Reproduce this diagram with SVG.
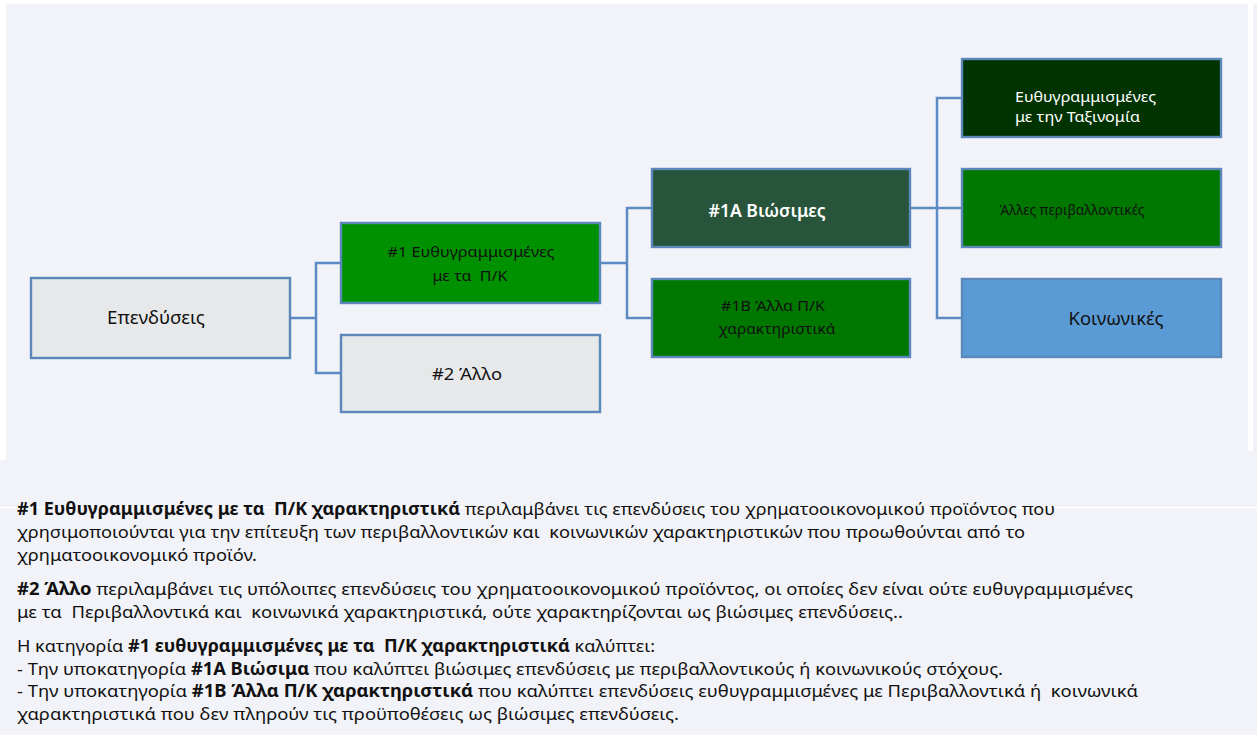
<svg xmlns="http://www.w3.org/2000/svg" width="1257" height="735" viewBox="0 0 1257 735" xml:space="preserve">
<style>
.node{stroke:#5b87bb;stroke-width:2.4}
.conn{fill:none;stroke:#5b8bc2;stroke-width:2.5}
.t{font-family:"Noto Sans","Open Sans","DejaVu Sans",sans-serif;white-space:pre}
.lbl{font-size:15px;fill:#111;text-anchor:middle}
.w{fill:#ffffff}
.body{font-size:17px;fill:#111}
.b{font-weight:bold}
</style>
<rect x="0" y="0" width="1257" height="735" fill="#f2f3f8"/>
<rect x="0" y="0" width="1257" height="4" fill="#ffffff"/>
<rect x="0" y="0" width="6" height="460" fill="#ffffff"/>
<rect x="1248" y="4" width="5" height="447" fill="#ffffff"/>
<line x1="0" y1="507.5" x2="1257" y2="507.5" stroke="#ffffff" stroke-width="1.5"/>

<g id="connectors">
<path class="conn" d="M290 318H316M341 263H316V373H341"/>
<path class="conn" d="M600 263H627M652 208H627V318H652"/>
<path class="conn" d="M910 208H962M962 98H937V318H962"/>
</g>

<g id="n-investments">
<rect class="node" x="31" y="278" width="259" height="80" fill="#e7e8e9"/>
<text class="t lbl" x="156" y="324" style="font-size:18px" textLength="98" lengthAdjust="spacingAndGlyphs">Επενδύσεις</text>
</g>
<g id="n-1">
<rect class="node" x="341" y="223" width="259" height="80" fill="#009100"/>
<text class="t lbl" x="471" y="257" textLength="167" lengthAdjust="spacingAndGlyphs">#1 Ευθυγραμμισμένες</text>
<text class="t lbl" x="470" y="281" textLength="75" lengthAdjust="spacingAndGlyphs">με τα &#160;Π/Κ</text>
</g>
<g id="n-2">
<rect class="node" x="341" y="335" width="259" height="77" fill="#e7e8e9"/>
<text class="t lbl" x="467" y="380" style="font-size:17px" textLength="70" lengthAdjust="spacingAndGlyphs">#2 Άλλο</text>
</g>
<g id="n-1a">
<rect class="node" x="652" y="169" width="258" height="78" fill="#27543a"/>
<text class="t lbl w" x="767" y="217" style="font-size:17px;font-weight:600" textLength="117" lengthAdjust="spacingAndGlyphs">#1Α Βιώσιμες</text>
</g>
<g id="n-1b">
<rect class="node" x="652" y="279" width="258" height="78" fill="#007800"/>
<text class="t lbl" x="773" y="311" textLength="104" lengthAdjust="spacingAndGlyphs">#1Β Άλλα Π/Κ</text>
<text class="t lbl" x="777" y="334" textLength="117" lengthAdjust="spacingAndGlyphs">χαρακτηριστικά</text>
</g>
<g id="n-taxonomy">
<rect class="node" x="962" y="59" width="259" height="78" fill="#003300"/>
<text class="t w" x="1015" y="102" style="font-size:14.5px" textLength="141" lengthAdjust="spacingAndGlyphs">Ευθυγραμμισμένες</text>
<text class="t w" x="1015" y="122" style="font-size:14.5px" textLength="125" lengthAdjust="spacingAndGlyphs">με την Ταξινομία</text>
</g>
<g id="n-other-env">
<rect class="node" x="962" y="169" width="259" height="78" fill="#007800"/>
<text class="t lbl" x="1072" y="215" textLength="145" lengthAdjust="spacingAndGlyphs">Άλλες περιβαλλοντικές</text>
</g>
<g id="n-social">
<rect class="node" x="962" y="279" width="259" height="78" fill="#5b9bd5"/>
<text class="t lbl" x="1116" y="325" style="font-size:18px" textLength="95" lengthAdjust="spacingAndGlyphs">Κοινωνικές</text>
</g>

<g id="notes" class="t body">
<text x="17" y="515" textLength="1038" lengthAdjust="spacingAndGlyphs"><tspan class="b">#1 Ευθυγραμμισμένες με τα &#160;Π/Κ χαρακτηριστικά</tspan> περιλαμβάνει τις επενδύσεις του χρηματοοικονομικού προϊόντος που</text>
<text x="17" y="538" textLength="1008" lengthAdjust="spacingAndGlyphs">χρησιμοποιούνται για την επίτευξη των περιβαλλοντικών και &#160;κοινωνικών χαρακτηριστικών που προωθούνται από το</text>
<text x="17" y="561" textLength="240" lengthAdjust="spacingAndGlyphs">χρηματοοικονομικό προϊόν.</text>
<text x="17" y="595" textLength="1116" lengthAdjust="spacingAndGlyphs"><tspan class="b">#2 Άλλο</tspan> περιλαμβάνει τις υπόλοιπες επενδύσεις του χρηματοοικονομικού προϊόντος, οι οποίες δεν είναι ούτε ευθυγραμμισμένες</text>
<text x="17" y="618" textLength="886" lengthAdjust="spacingAndGlyphs">με τα &#160;Περιβαλλοντικά και &#160;κοινωνικά χαρακτηριστικά, ούτε χαρακτηρίζονται ως βιώσιμες επενδύσεις..</text>
<text x="17" y="652" textLength="638" lengthAdjust="spacingAndGlyphs">Η κατηγορία <tspan class="b">#1 ευθυγραμμισμένες με τα &#160;Π/Κ χαρακτηριστικά</tspan> καλύπτει:</text>
<text x="17" y="674.5" textLength="986" lengthAdjust="spacingAndGlyphs">- Την υποκατηγορία <tspan class="b">#1Α Βιώσιμα</tspan> που καλύπτει βιώσιμες επενδύσεις με περιβαλλοντικούς ή κοινωνικούς στόχους.</text>
<text x="17" y="697" textLength="1121" lengthAdjust="spacingAndGlyphs">- Την υποκατηγορία <tspan class="b">#1Β Άλλα Π/Κ χαρακτηριστικά</tspan> που καλύπτει επενδύσεις ευθυγραμμισμένες με Περιβαλλοντικά ή &#160;κοινωνικά</text>
<text x="17" y="719.5" textLength="662" lengthAdjust="spacingAndGlyphs">χαρακτηριστικά που δεν πληρούν τις προϋποθέσεις ως βιώσιμες επενδύσεις.</text>
</g>
</svg>
